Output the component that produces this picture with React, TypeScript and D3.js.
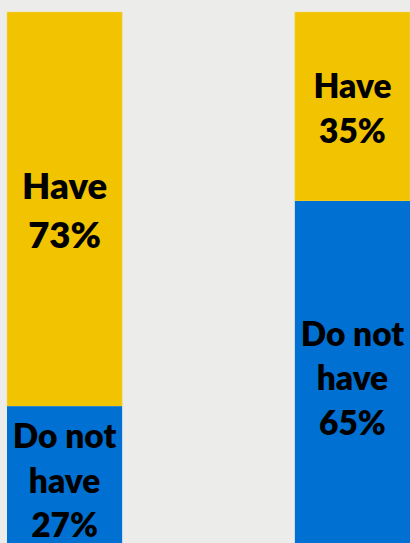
import React from "react";
import * as d3 from "d3";

const categories = ["Group A", "Group B"];
const haveValues = [73, 35];
const doNotHaveValues = [27, 65];
const haveLabels = [["Have", "73%"], ["Have", "35%"]];
const doNotLabels = [["Do not", "have", "27%"], ["Do not", "have", "65%"]];

const W = 410;
const H = 543;
const YELLOW = "#F2C300";
const BLUE = "#0070D2";
const BG = "#ECECEA";

export default function App() {
  const x = d3.scaleBand<string>().domain(categories).range([7, 410]).paddingInner(0.6).paddingOuter(0);
  const y = d3.scaleLinear().domain([0, 100]).range([552, 12]);
  const font = "Lato, 'Noto Sans', sans-serif";

  const renderLabel = (lines: string[], cx: number, mid: number, fs: number, lh: number, key: string) => {
    const cap = fs * 0.717;
    const n = lines.length;
    return (
      <text key={key} textAnchor="middle" fontFamily={font} fontWeight={800} fontSize={fs} fill="#000">
        {lines.map((l, i) => (
          <tspan key={i} x={cx} y={mid + 1.5 + (i - (n - 1) / 2) * lh + cap / 2}>
            {l}
          </tspan>
        ))}
      </text>
    );
  };

  return (
    <svg width={W} height={H} style={{ position: "absolute", left: 0, top: 0, display: "block" }}>
      <rect x={0} y={0} width={W} height={H} fill={BG} />
      {categories.map((c, i) => {
        const x0 = x(c)!;
        const bw = x.bandwidth();
        const cx = x0 + bw / 2;
        const yBlueTop = y(doNotHaveValues[i]);
        const yYellowTop = y(doNotHaveValues[i] + haveValues[i]);
        const yBottom = y(0);
        const bigTop = i === 0;
        return (
          <g key={c}>
            <rect x={x0} y={yYellowTop} width={bw} height={yBlueTop - yYellowTop} fill={YELLOW} stroke="#F5D76A" strokeWidth={0.6} />
            <rect x={x0} y={yBlueTop} width={bw} height={yBottom - yBlueTop} fill={BLUE} />
            {renderLabel(haveLabels[i], cx, (yYellowTop + yBlueTop) / 2, bigTop ? 36.5 : 33.5, bigTop ? 49 : 45, "h" + i)}
            {renderLabel(doNotLabels[i], cx, (yBlueTop + yBottom) / 2, 33.5, 44.5, "d" + i)}
          </g>
        );
      })}
    </svg>
  );
}
